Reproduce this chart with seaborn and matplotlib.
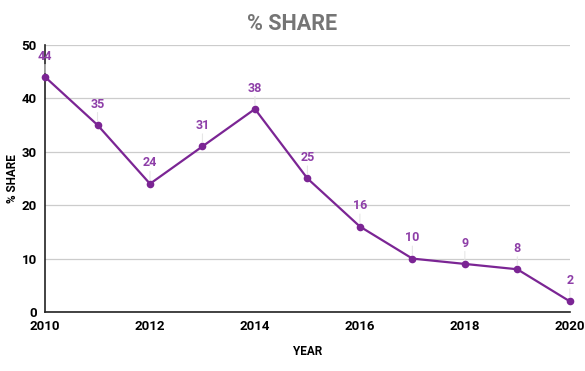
import matplotlib
matplotlib.use("Agg")
import matplotlib.pyplot as plt
import seaborn as sns
import pandas as pd

years = [2010, 2011, 2012, 2013, 2014, 2015, 2016, 2017, 2018, 2019, 2020]
share = [44, 35, 24, 31, 38, 25, 16, 10, 9, 8, 2]
x_ticks = [2010, 2012, 2014, 2016, 2018, 2020]
y_ticks = [0, 10, 20, 30, 40, 50]

sns.set_theme(style="white")
plt.rcParams['font.family'] = ['Roboto', 'DejaVu Sans']

df = pd.DataFrame({"YEAR": years, "SHARE": share})

fig = plt.figure(figsize=(5.85, 3.71), dpi=100)
ax = fig.add_axes([0.077, 0.159, 0.897, 0.72])

line_color = "#7b2594"
label_color = "#8e3fa8"

sns.lineplot(data=df, x="YEAR", y="SHARE", ax=ax, color=line_color, linewidth=1.6,
             marker="o", markersize=5.5, markeredgewidth=0, zorder=3, clip_on=False)

for xv, yv in zip(years, share):
    ax.annotate(str(yv), xy=(xv, yv), xytext=(0, 15), textcoords="offset points",
                ha="center", va="center", fontsize=9, fontweight="bold", color=label_color,
                zorder=5, annotation_clip=False)
    ax.annotate("", xy=(xv, yv), xytext=(0, 9), textcoords="offset points",
                arrowprops=dict(arrowstyle="-", color="#e6e6e6", lw=0.8, shrinkA=0, shrinkB=3))

ax.set_xlim(2010, 2020)
ax.set_ylim(0, 50)
ax.set_xticks(x_ticks)
ax.set_yticks(y_ticks)
ax.set_xticklabels([str(t) for t in x_ticks], fontsize=9.5, fontweight="bold", color="black")
ax.set_yticklabels([str(t) for t in y_ticks], fontsize=9.5, fontweight="bold", color="black")
ax.tick_params(axis="x", length=0, pad=6)
ax.tick_params(axis="y", length=0, pad=6)

ax.yaxis.grid(True, color="#cccccc", linewidth=0.9)
ax.xaxis.grid(False)
ax.set_axisbelow(True)
for s in ["top", "right"]:
    ax.spines[s].set_visible(False)
ax.spines["left"].set_color("#222222")
ax.spines["bottom"].set_color("#222222")
ax.spines["left"].set_linewidth(1.2)
ax.spines["bottom"].set_linewidth(1.2)

ax.set_xlabel("YEAR", fontsize=8.5, fontweight="bold", color="black")
ax.set_ylabel("% SHARE", fontsize=8.5, fontweight="bold", color="black")
ax.xaxis.set_label_coords(0.5, -0.125)
ax.yaxis.set_label_coords(-0.05, 0.5)
fig.text(0.5, 0.935, "% SHARE", ha="center", va="center", fontsize=15.5,
         fontweight="bold", color="#757575")

fig.savefig("out.png", dpi=100)
